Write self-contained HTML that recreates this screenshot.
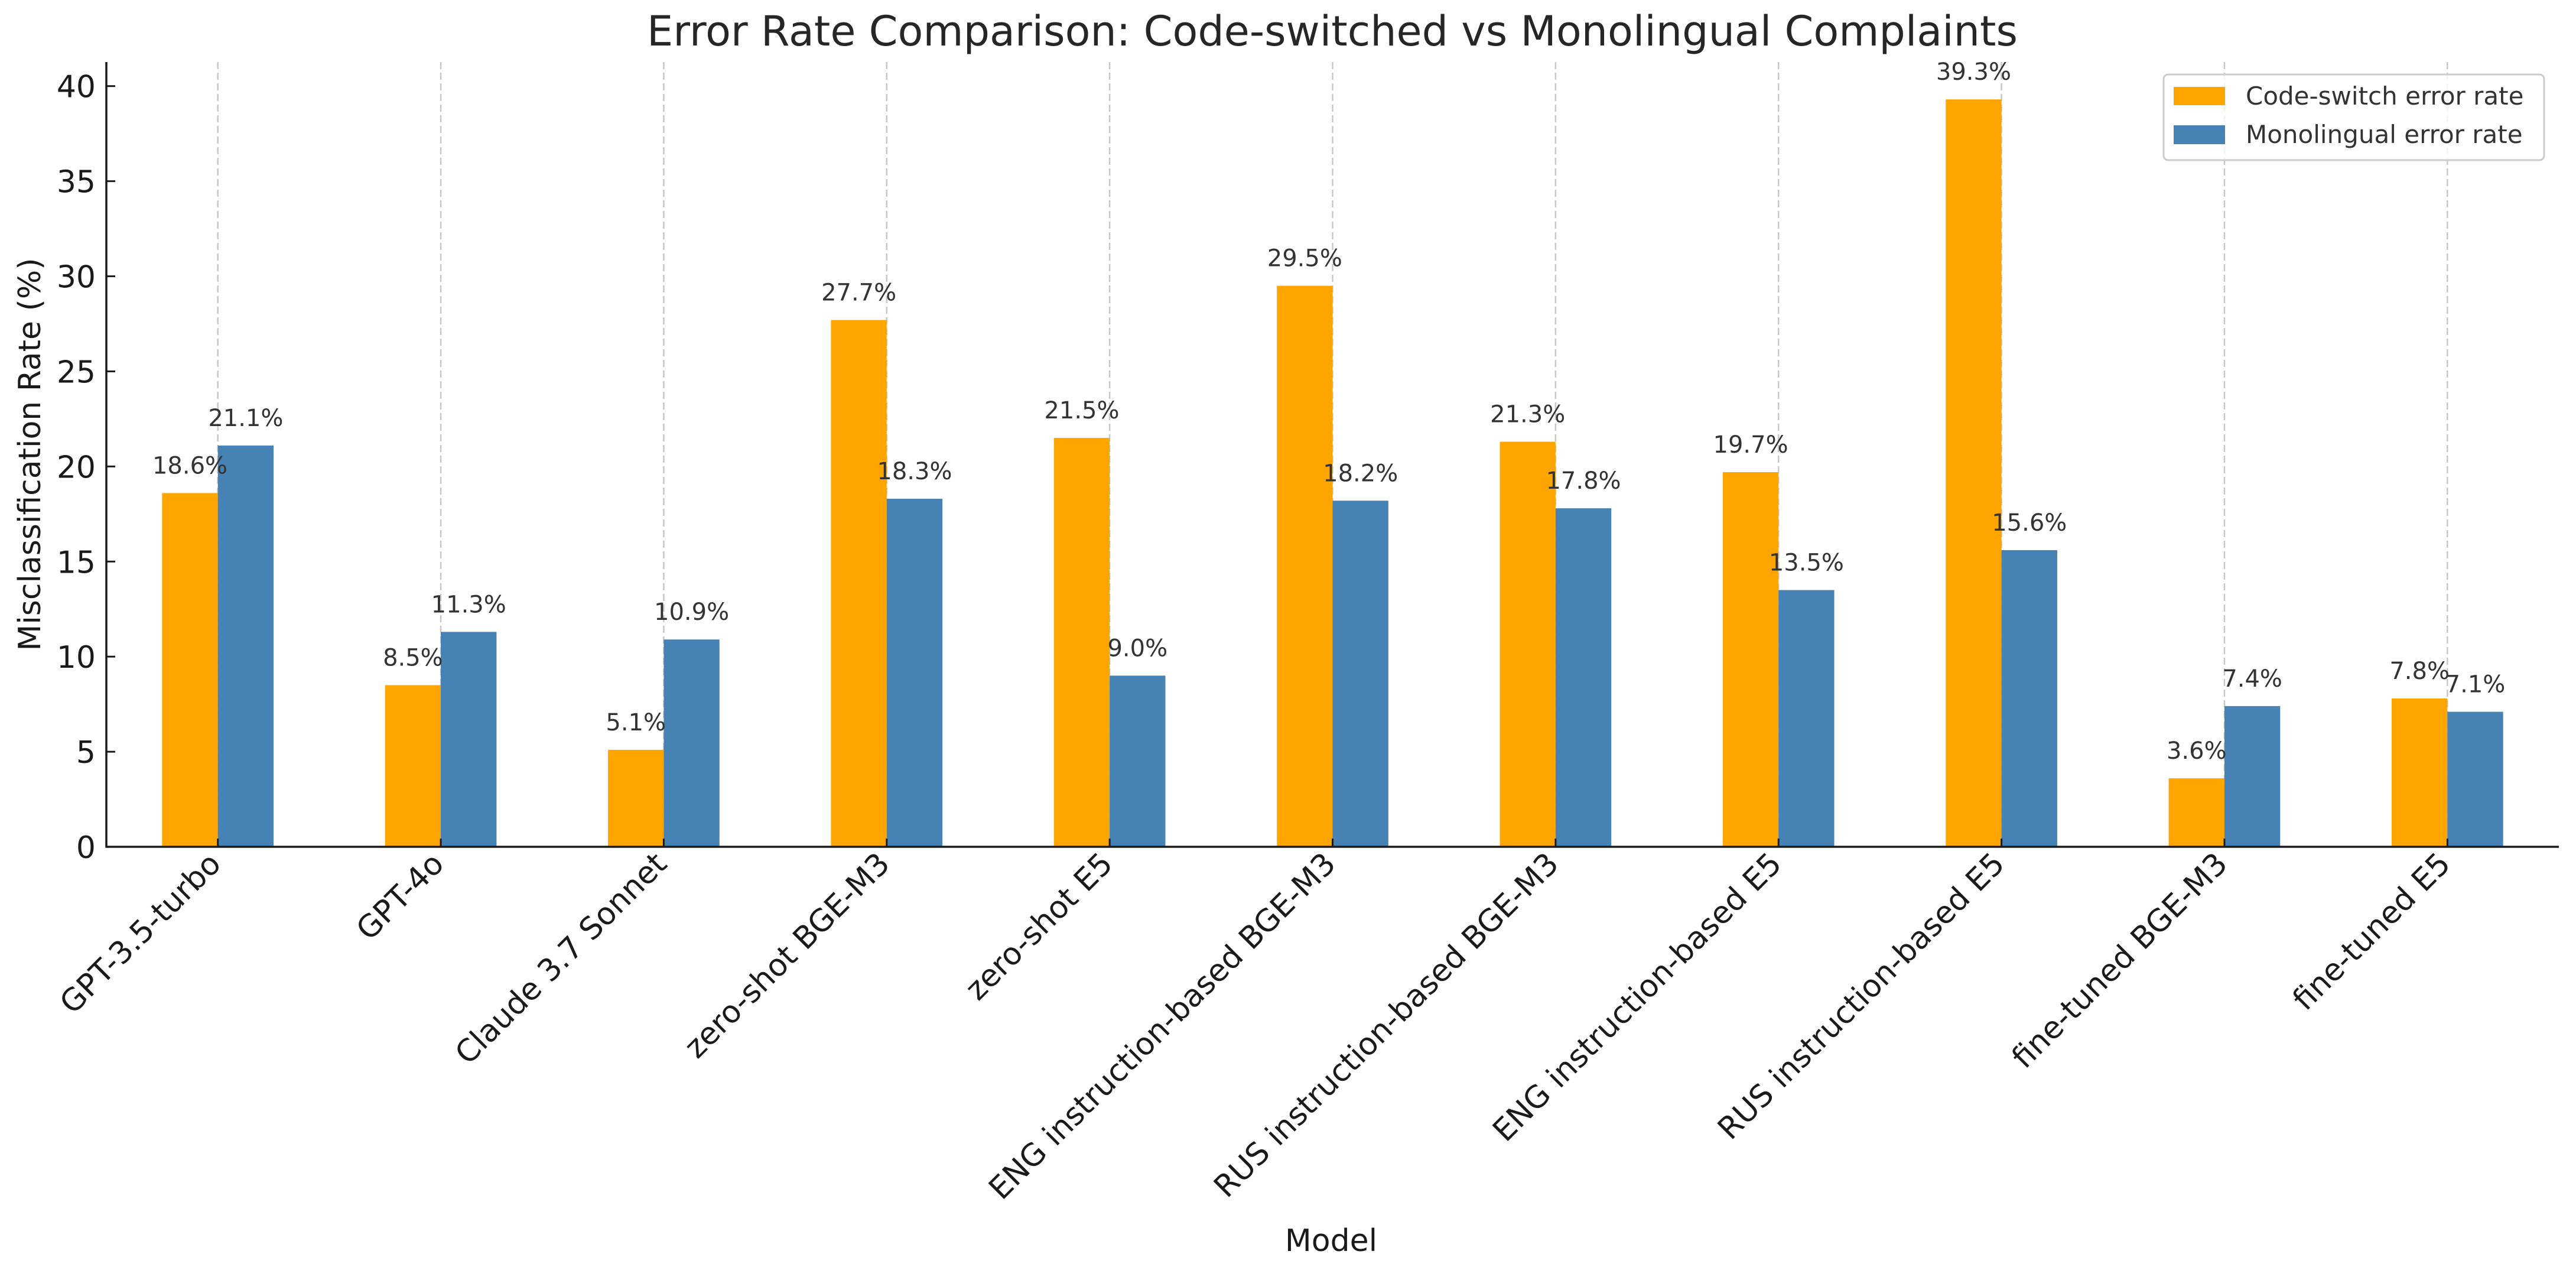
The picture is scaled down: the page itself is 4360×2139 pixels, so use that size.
<!DOCTYPE html>
<html><head><meta charset="utf-8"><style>
html,body{margin:0;padding:0;background:#fff;}
svg{display:block;font-family:"DejaVu Sans","Liberation Sans",sans-serif;}
</style></head><body>
<svg id="chart" width="4360" height="2139" viewBox="0 0 4360 2139" xmlns="http://www.w3.org/2000/svg">
<rect width="4360" height="2139" fill="#fff"/>
<text x="2255" y="77" font-size="70" fill="#262626" text-anchor="middle">Error Rate Comparison: Code-switched vs Monolingual Complaints</text>
<g id="grid"></g>
<g id="bars"></g>
<g id="labels"></g>
<g id="axes"></g>
<text transform="translate(68,769) rotate(-90)" font-size="52" fill="#1a1a1a" text-anchor="middle">Misclassification Rate (%)</text>
<text x="2253" y="2117" font-size="52" fill="#1a1a1a" text-anchor="middle">Model</text>
<g>
<rect x="3662" y="126" width="644" height="145" rx="8" fill="#fff" fill-opacity="0.8" stroke="#cccccc" stroke-width="3"/>
<rect x="3679" y="147" width="87" height="31" fill="#ffa500"/>
<text x="3801" y="177" font-size="42" fill="#333">Code-switch error rate</text>
<rect x="3679" y="212" width="87" height="32" fill="#4682b4"/>
<text x="3801" y="242" font-size="42" fill="#333">Monolingual error rate</text>
</g>
</svg>
<script>
const categories = ["GPT-3.5-turbo","GPT-4o","Claude 3.7 Sonnet","zero-shot BGE-M3","zero-shot E5","ENG instruction-based BGE-M3","RUS instruction-based BGE-M3","ENG instruction-based E5","RUS instruction-based E5","fine-tuned BGE-M3","fine-tuned E5"];
const codeSwitch = [18.6,8.5,5.1,27.7,21.5,29.5,21.3,19.7,39.3,3.6,7.8];
const monolingual = [21.1,11.3,10.9,18.3,9.0,18.2,17.8,13.5,15.6,7.4,7.1];
const yTicks = [0,5,10,15,20,25,30,35,40];

const NS = "http://www.w3.org/2000/svg";
const L = 180, R = 4331, T = 105, B = 1433;
const yMax = Math.max(...codeSwitch, ...monolingual) * 1.05;
const n = categories.length;
const step = (R - L) / n;
function xScale(i){ return L + step * (i + 0.5); }
function yScale(v){ return B - (v / yMax) * (B - T); }
const bw = step * 0.25;
function mk(tag, attrs, parent){
  const e = document.createElementNS(NS, tag);
  for (const k in attrs) e.setAttribute(k, attrs[k]);
  parent.appendChild(e);
  return e;
}
const grid = document.getElementById('grid');
const bars = document.getElementById('bars');
const labels = document.getElementById('labels');
const axes = document.getElementById('axes');

categories.forEach((c, i) => {
  const cx = xScale(i);
  const g = mk('line', {x1:cx, x2:cx, y1:T, y2:B, stroke:'#c8c8c8', 'stroke-width':2.5, 'stroke-dasharray':'12 6'}, grid);
  
  

  const v1 = codeSwitch[i], v2 = monolingual[i];
  const b1 = mk('rect', {x:cx - bw, y:yScale(v1), width:bw, height:B - yScale(v1), fill:'#ffa500'}, bars);
  
  
  const b2 = mk('rect', {x:cx, y:yScale(v2), width:bw, height:B - yScale(v2), fill:'#4682b4'}, bars);
  
  

  const t1 = mk('text', {x:cx - bw/2, y:yScale(v1) - 33, 'font-size':40, fill:'#333', 'text-anchor':'middle'}, labels);
  t1.textContent = v1.toFixed(1) + '%';
  
  
  const t2 = mk('text', {x:cx + bw/2, y:yScale(v2) - 33, 'font-size':40, fill:'#333', 'text-anchor':'middle'}, labels);
  t2.textContent = v2.toFixed(1) + '%';
  
  

  const tk = mk('line', {x1:cx, x2:cx, y1:B, y2:B - 14, stroke:'#1a1a1a', 'stroke-width':3}, axes);
  
  
  const tl = mk('text', {transform:'translate(' + (cx + 8) + ',' + (B + 32) + ') rotate(-45)', 'font-size':52, fill:'#1a1a1a', 'text-anchor':'end'}, axes);
  tl.textContent = c;
  
  
});

yTicks.forEach(v => {
  const y = yScale(v);
  const tk = mk('line', {x1:L, x2:L + 15, y1:y, y2:y, stroke:'#1a1a1a', 'stroke-width':3}, axes);
  
  
  const tl = mk('text', {x:L - 18, y:y + 19, 'font-size':52, fill:'#1a1a1a', 'text-anchor':'end'}, axes);
  tl.textContent = String(v);
  
  
});

const ya = mk('line', {x1:L, x2:L, y1:T, y2:B + 1.5, stroke:'#1a1a1a', 'stroke-width':3.5}, axes);


const xa = mk('line', {x1:L - 1.5, x2:R, y1:B, y2:B, stroke:'#1a1a1a', 'stroke-width':3.5}, axes);


</script>
</body></html>
